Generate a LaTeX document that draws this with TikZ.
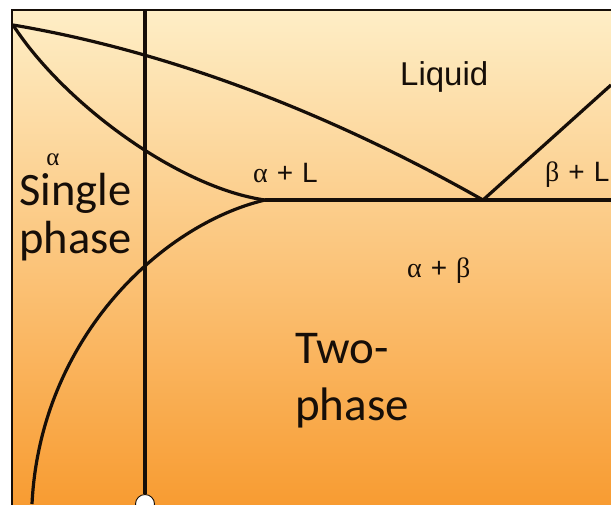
\documentclass[tikz,border=0pt]{standalone}
\usepackage{fontspec}
\setmainfont{Liberation Sans}
\newfontfamily\calibfont{Carlito}
\newfontfamily\greekfont{Liberation Serif}
\usetikzlibrary{calc}
\definecolor{PaleTop}{RGB}{254,238,198}
\definecolor{MidOrange}{RGB}{252,200,122}
\definecolor{DeepOrange}{RGB}{248,156,50}
\definecolor{InkDark}{RGB}{22,14,8}

\begin{document}
\begin{tikzpicture}[x=1pt,y=-1pt,every node/.style={inner sep=0pt,text=InkDark}]
\tikzset{phaseline/.style={draw=InkDark,line width=3.2pt},bigword/.style={font=\calibfont\fontsize{46.5}{48}\selectfont,align=left,anchor=base west},smallword/.style={font=\fontsize{28}{30}\selectfont,anchor=base west}}
\useasboundingbox (0,0) rectangle (611,504);
\shade[top color=PaleTop,middle color=MidOrange,bottom color=DeepOrange] (12,10) rectangle (611,504);
\coordinate (melta) at (13,25);
\coordinate (eut) at (483,200);
\coordinate (lim) at (265,200);
\coordinate (foot) at (32,504);
\coordinate (meltb) at (611,85);
\coordinate (eastend) at (611,200);
\coordinate (top) at (145,10);
\begin{scope}
\clip (12,10) rectangle (611,504);
\draw[phaseline] (melta) .. controls (173,52) and (333,115) .. (eut);
\draw[phaseline] (melta) .. controls (65,105) and (180,188) .. (lim);
\draw[phaseline] (lim) -- (eut) -- (eastend);
\draw[phaseline] (eut) -- (meltb);
\draw[phaseline] (lim) .. controls (160,225) and (40,340) .. (foot);
\node[smallword] (bl) at (545,181) {{\greekfont β}\hspace{9pt}+\hspace{9pt}L};
\end{scope}
\draw[InkDark,line width=1.4pt] (12,520) |- (620,10);
\node[circle,draw=InkDark,fill=white,line width=0.9pt,minimum size=19pt] (pin) at (145,504) {};
\draw[InkDark,line width=3.2pt] (top) -- (pin);
% region labels
\node[font=\fontsize{33}{36}\selectfont,anchor=base west] (liq) at (400,85) {Liquid};
\node[smallword] (al) at (253,182) {{\greekfont α}\hspace{9pt}+\hspace{9pt}L};
\node[smallword] (ab) at (407,277) {{\greekfont α}\hspace{9pt}+\hspace{9pt}{\greekfont β}};
\node[font=\fontsize{25}{26}\selectfont,anchor=base] (alphasign) at (53,165) {\greekfont α};
\node[bigword] (single) at (19,253) {Single\\phase};
\node[bigword,font=\calibfont\fontsize{47}{57}\selectfont] (two) at (295,420) {Two-\\phase};
\end{tikzpicture}
\end{document}
